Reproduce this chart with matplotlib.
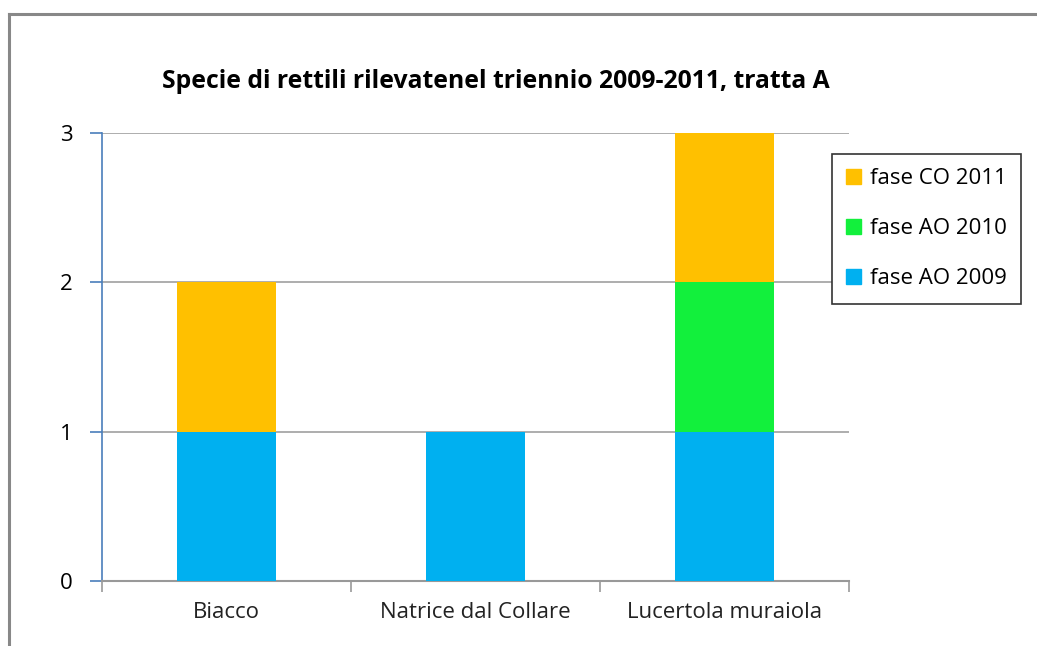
import matplotlib
matplotlib.use('Agg')
import numpy as np
from matplotlib import pyplot as plt
from matplotlib.lines import Line2D
from matplotlib.patches import Patch

categories = ['Biacco', 'Natrice dal Collare', 'Lucertola muraiola']
ao_2009 = [1, 1, 1]
ao_2010 = [0, 0, 1]
co_2011 = [1, 0, 1]
title = 'Specie di rettili rilevatenel triennio 2009-2011, tratta A'

c_2009 = '#00B0F0'
c_2010 = '#12F03C'
c_2011 = '#FFC000'

plt.rcParams['font.family'] = ['Open Sans', 'DejaVu Sans']

W, H = 1037, 646
fig = plt.figure(figsize=(W / 100, H / 100), dpi=100)
ax = fig.add_axes([102 / W, 1 - 581 / H, (849 - 102) / W, (581 - 133) / H])

x = np.arange(len(categories))
b1 = np.array(ao_2009)
b2 = b1 + np.array(ao_2010)
ax.bar(x, ao_2009, width=0.4, color=c_2009, zorder=3)
ax.bar(x, ao_2010, width=0.4, bottom=b1, color=c_2010, zorder=3)
ax.bar(x, co_2011, width=0.4, bottom=b2, color=c_2011, zorder=3)

ax.set_xlim(-0.5, 2.5)
ax.set_ylim(0, 3)
ax.set_yticks([0, 1, 2, 3])
ax.yaxis.grid(True, color='#a0a0a0', linewidth=1.2, zorder=0)
ax.set_axisbelow(True)

# x ticks at category boundaries, labels in between
ax.set_xticks([-0.5, 0.5, 1.5, 2.5])
ax.set_xticklabels([])
ax.set_xticks(x, minor=True)
ax.set_xticklabels(categories, minor=True, fontsize=16, color='#222222')
ax.tick_params(axis='x', which='minor', length=0, pad=15)
ax.tick_params(axis='x', which='major', length=8, color='#999999', width=1.2)
ax.tick_params(axis='y', length=9, color='#4A7EBB', width=1.2, labelsize=16, pad=12)

for s in ['top', 'right']:
    ax.spines[s].set_visible(False)
ax.spines['left'].set_color('#4A7EBB')
ax.spines['left'].set_linewidth(1.2)
ax.spines['bottom'].set_color('#999999')
ax.spines['bottom'].set_linewidth(1.5)

fig.text(496 / W, 1 - 82 / H, title, ha='center', va='center',
         fontsize=17.8, fontweight='bold', family=['Open Sans', 'DejaVu Sans'])

handles = [Patch(color=c_2011, label='fase CO 2011'),
           Patch(color=c_2010, label='fase AO 2010'),
           Patch(color=c_2009, label='fase AO 2009')]
leg = fig.legend(handles=handles, loc='upper left',
                 bbox_to_anchor=(832 / W, 1 - 154 / H), borderaxespad=0,
                 fancybox=False, edgecolor='#333333', framealpha=1,
                 fontsize=16, handlelength=0.65, handleheight=0.65,
                 handletextpad=0.4, labelspacing=1.3, borderpad=0.65)
leg.get_frame().set_linewidth(1.2)

# outer chart border (top and left visible)
fig.add_artist(Line2D([9 / W, 1], [1 - 14 / H, 1 - 14 / H], color='#888888', linewidth=2.2))
fig.add_artist(Line2D([9 / W, 9 / W], [0, 1 - 14 / H], color='#888888', linewidth=2.2))

fig.savefig('out.png', dpi=100)
